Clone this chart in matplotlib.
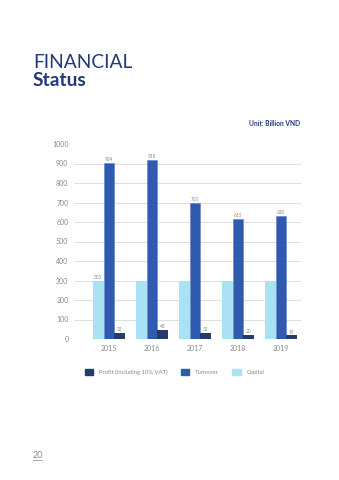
import matplotlib
matplotlib.use("Agg")
import matplotlib.pyplot as plt
from matplotlib.patches import Patch
import numpy as np

years = ["2015", "2016", "2017", "2018", "2019"]
profit = [32, 48, 32, 20, 19]
turnover = [904, 918, 700, 615, 630]
capital = [300, 300, 300, 300, 300]
yticks = [0, 100, 200, 300, 400, 500, 600, 700, 800, 900, 1000]

C_PROFIT = "#243c68"
C_TURN = "#2f5aad"
C_CAP = "#a9e2f3"
NAVY = "#24397a"
GRAY = "#8a8a8a"

plt.rcParams['font.family'] = ['Lato', 'DejaVu Sans']

W, H = 339, 480
fig = plt.figure(figsize=(W/100, H/100), dpi=100)
ax = fig.add_axes([74/W, (H-339)/H, (301-74)/W, (339-144)/H])

x = np.arange(len(years))
bw = 0.245
ax.bar(x - bw, capital, bw, color=C_CAP, zorder=2)
ax.bar(x, turnover, bw, color=C_TURN, edgecolor="#5b80c8", linewidth=0.4, zorder=2)
ax.bar(x + bw, profit, bw, color=C_PROFIT, zorder=2)

lab_kw = dict(ha="center", va="bottom", fontsize=3.4, color=GRAY)
ax.text(x[0] - bw, capital[0] + 4, str(capital[0]), **lab_kw)
for i in range(len(years)):
    ax.text(x[i], turnover[i] + 4, str(turnover[i]), **lab_kw)
    ax.text(x[i] + bw, profit[i] + 4, str(profit[i]), **lab_kw)

ax.set_xlim(-0.81, 4.47)
ax.set_ylim(0, 1000)
ax.set_yticks(yticks)
ax.set_yticklabels([str(v) for v in yticks])
ax.set_xticks(x)
ax.set_xticklabels(years)
ax.tick_params(axis="both", length=0, labelsize=5, colors=GRAY)
ax.tick_params(axis="y", pad=4)
ax.tick_params(axis="x", pad=4)
for s in ax.spines.values():
    s.set_visible(False)
ax.yaxis.grid(True, color="#d9d9d9", linewidth=0.6, zorder=0)
ax.set_axisbelow(True)
ax.get_ygridlines()[-1].set_visible(False)

handles = [Patch(color=C_PROFIT), Patch(color=C_TURN), Patch(color=C_CAP)]
labels = ["Profit (including 10% VAT)", "Turnover", "Capital"]
fig.legend(handles, labels, loc="center left", bbox_to_anchor=(80/W, 1 - 372/H),
           ncol=3, frameon=False, fontsize=4.2, handlelength=1.4, handleheight=1.4,
           columnspacing=2.3, handletextpad=1.0, labelcolor=GRAY)

fig.text(33/W, 1 - 62/H, "FINANCIAL", fontsize=13.8, color=NAVY, va="center", ha="left")
fig.text(33/W, 1 - 80/H, "Status", fontsize=13.8, color=NAVY, va="center", ha="left", fontweight="bold")
fig.text(300/W, 1 - 124/H, "Unit: Billion VND", fontsize=4.8, color=NAVY, va="center", ha="right", fontweight="bold")
fig.text(33/W, 1 - 455/H, "20", fontsize=6.5, color=GRAY, va="center", ha="left")
fig.add_artist(plt.Line2D([33/W, 42/W], [1 - 460/H, 1 - 460/H], color=GRAY, linewidth=0.5))

fig.savefig("out.png", dpi=100)
